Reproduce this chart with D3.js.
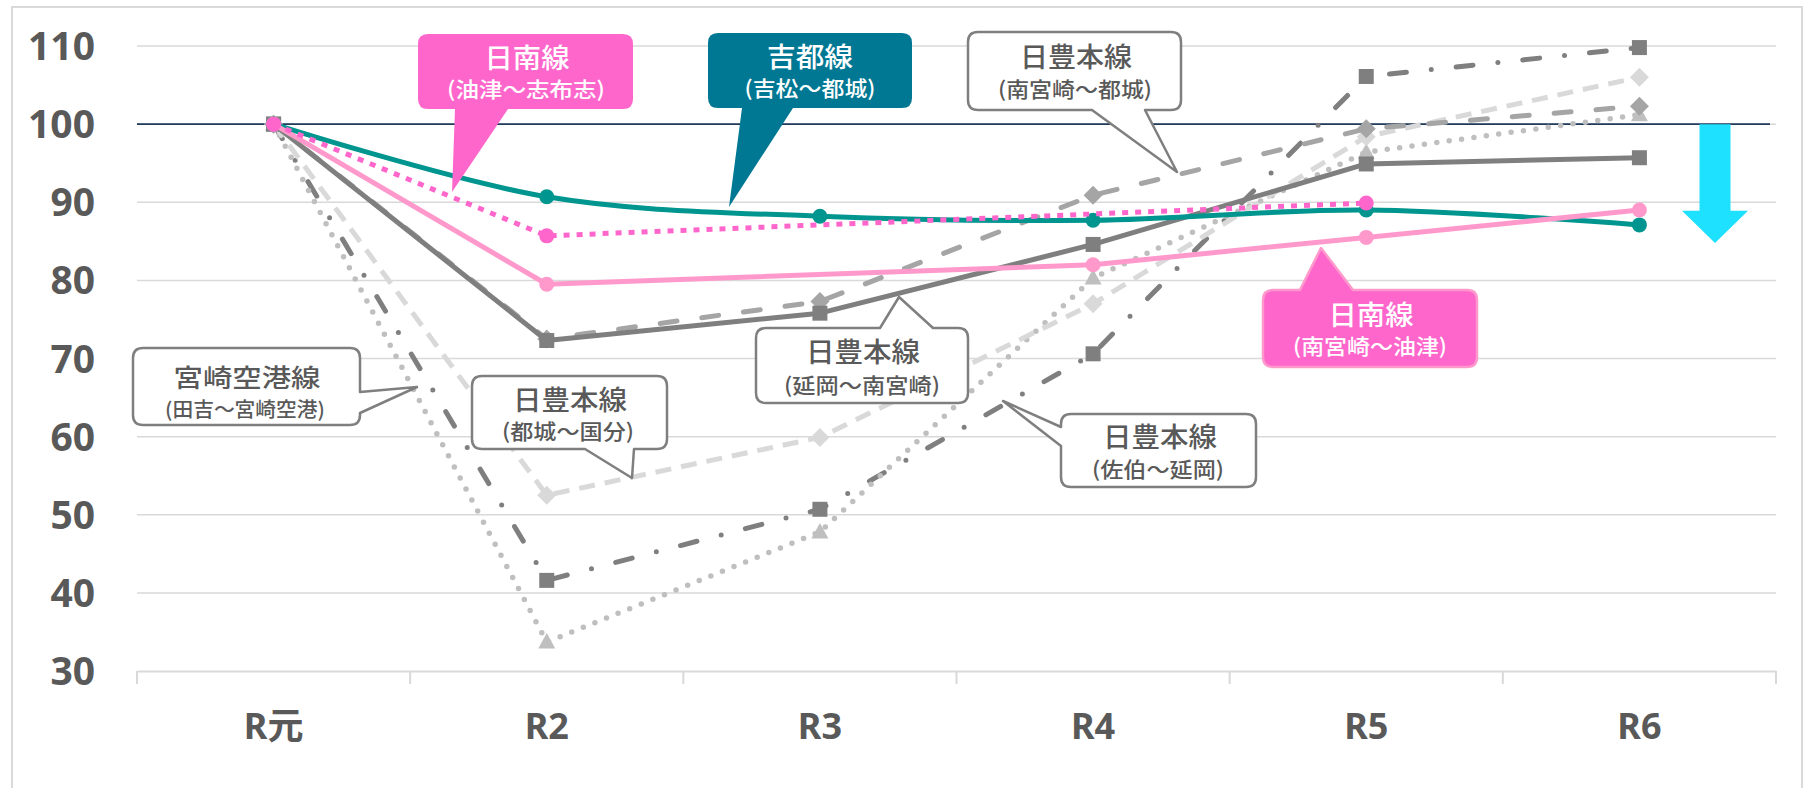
<!DOCTYPE html>
<html>
<head>
	<meta charset="utf-8">
	<script src="https://cdn.jsdelivr.net/npm/d3@7"></script>
	<style>
		body { margin: 0; background: #fff; }
		svg { display: block; }
	</style>
</head>
<body>
	<div id="chart"></div>

	<script>
		// 年度と指数 (R元 = 100)
		var categories = ["R元", "R2", "R3", "R4", "R5", "R6"];
		var yTicks = [30, 40, 50, 60, 70, 80, 90, 100, 110];

		var kitto = [100, 90.7, 88.2, 87.7, 89.0, 87.1];               // 吉都線（吉松〜都城）
		var nichinanShibushi = [100, 85.7, null, null, 89.9, null];    // 日南線（油津〜志布志）
		var nichinanAburatsu = [100, 79.5, null, 82.0, 85.5, 89.0];    // 日南線（南宮崎〜油津）
		var nipponNobeoka = [100, 72.3, 75.8, 84.6, 94.9, 95.7];       // 日豊本線（延岡〜南宮崎）
		var nipponMiyakonojo = [100, 72.5, 77.3, 90.9, 99.4, 102.3];   // 日豊本線（南宮崎〜都城）
		var nipponKokubu = [100, 52.5, 59.9, 77.0, 98.4, 106.0];       // 日豊本線（都城〜国分）
		var airport = [100, 33.7, 47.8, 80.3, 96.4, 101.2];            // 宮崎空港線（田吉〜宮崎空港）
		var nipponSaiki = [100, 41.6, 50.7, 70.6, 106.1, 109.8];       // 日豊本線（佐伯〜延岡）

		var width = 1807, height = 788;
		var plotLeft = 137, plotRight = 1776, plotTop = 46, plotBottom = 671;

		var svg = d3.select("#chart").append("svg")
			.attr("width", width)
			.attr("height", height);

		// outer frame
		svg.append("rect")
			.attr("x", 12).attr("y", 7)
			.attr("width", 1790).attr("height", 800)
			.attr("fill", "none")
			.attr("stroke", "#d9d9d9")
			.attr("stroke-width", 2);

		var x = d3.scalePoint()
			.domain(categories)
			.range([plotLeft, plotRight])
			.padding(0.5);

		var band = x.step();

		var y = d3.scaleLinear()
			.domain([30, 110])
			.range([plotBottom, plotTop]);

		// gridlines
		svg.append("g").selectAll("line")
			.data(yTicks.filter(function(d) { return d != 30; }))
			.enter().append("line")
			.attr("x1", plotLeft).attr("x2", plotRight)
			.attr("y1", function(d) { return y(d); })
			.attr("y2", function(d) { return y(d); })
			.attr("stroke", "#d9d9d9")
			.attr("stroke-width", 1.5);

		// x axis
		var xAxis = svg.append("g")
			.attr("transform", "translate(0," + plotBottom + ")")
			.call(d3.axisBottom(x).tickSize(0).tickFormat(""));
		xAxis.select(".domain").attr("stroke", "#d9d9d9").attr("stroke-width", 2);
		xAxis.selectAll(".tick").remove();

		svg.append("g").selectAll("line")
			.data(d3.range(categories.length + 1))
			.enter().append("line")
			.attr("x1", function(i) { return plotLeft + i * band; })
			.attr("x2", function(i) { return plotLeft + i * band; })
			.attr("y1", plotBottom).attr("y2", plotBottom + 13)
			.attr("stroke", "#d9d9d9")
			.attr("stroke-width", 2);

		svg.append("g").selectAll("text")
			.data(categories)
			.enter().append("text")
			.attr("x", function(d) { return x(d); })
			.attr("y", 739)
			.attr("text-anchor", "middle")
			.attr("font-family", "'Noto Sans', 'Noto Sans CJK JP', sans-serif")
			.attr("font-weight", "bold")
			.attr("font-size", 36)
			.attr("fill", "#595959")
			.text(function(d) { return d; });

		// y labels
		svg.append("g").selectAll("text")
			.data(yTicks)
			.enter().append("text")
			.attr("x", 95)
			.attr("y", function(d) { return y(d); })
			.attr("dy", "0.36em")
			.attr("text-anchor", "end")
			.attr("font-family", "'Noto Sans', sans-serif")
			.attr("font-weight", "bold")
			.attr("font-size", 39)
			.attr("fill", "#595959")
			.text(function(d) { return d; });

		// 100 base line
		svg.append("line")
			.attr("x1", plotLeft).attr("x2", plotRight - 6)
			.attr("y1", y(100)).attr("y2", y(100))
			.attr("stroke", "#203a5c")
			.attr("stroke-width", 1.6);

		var series = [
			{ values: nipponSaiki, color: "#7f7f7f", width: 5, dash: "17 25 0 25", cap: "round", marker: "square" },
			{ values: airport, color: "#bfbfbf", width: 5.5, dash: "0 12.5", cap: "round", marker: "triangle" },
			{ values: nipponKokubu, color: "#d9d9d9", width: 5, dash: "16 10", cap: "butt", marker: "diamond" },
			{ values: nipponMiyakonojo, color: "#a5a5a5", width: 5, dash: "17 25", cap: "round", marker: "diamond" },
			{ values: nipponNobeoka, color: "#7f7f7f", width: 5, dash: null, cap: "butt", marker: "square" },
			{ values: kitto, color: "#00968f", width: 5, dash: null, cap: "butt", marker: "circle", smooth: true },
			{ values: nichinanAburatsu, color: "#ff99cc", width: 5, dash: null, cap: "butt", marker: "circle" },
			{ values: nichinanShibushi, color: "#ff66cc", width: 5, dash: "6 7", cap: "butt", marker: "circle" }
		];

		function points(vals) {
			return vals.map(function(v, i) { return { c: categories[i], v: v }; })
				.filter(function(p) { return p.v != null; });
		}

		var markerPath = {
			square: "M-7.5,-7.5H7.5V7.5H-7.5Z",
			diamond: "M0,-9.5L9.5,0L0,9.5L-9.5,0Z",
			triangle: "M0,-9L8.5,6.5H-8.5Z"
		};

		series.forEach(function(s) {
			var line = d3.line()
				.x(function(p) { return x(p.c); })
				.y(function(p) { return y(p.v); })
				.curve(s.smooth ? d3.curveCatmullRom.alpha(0.5) : d3.curveLinear);

			var g = svg.append("g");
			g.append("path")
				.datum(points(s.values))
				.attr("d", line)
				.attr("fill", "none")
				.attr("stroke", s.color)
				.attr("stroke-width", s.width)
				.attr("stroke-linecap", s.cap)
				.attr("stroke-linejoin", "round")
				.attr("stroke-dasharray", s.dash);

			var m = g.selectAll(".mk")
				.data(points(s.values))
				.enter();
			if (s.marker == "circle") {
				m.append("circle")
					.attr("cx", function(p) { return x(p.c); })
					.attr("cy", function(p) { return y(p.v); })
					.attr("r", 7.5)
					.attr("fill", s.color);
			} else {
				m.append("path")
					.attr("transform", function(p) { return "translate(" + x(p.c) + "," + y(p.v) + ")"; })
					.attr("d", markerPath[s.marker])
					.attr("fill", s.color);
			}
		});

		// cyan arrow down
		var ax = 1715, shaft = 15.5, head = 33;
		svg.append("path")
			.attr("d", "M" + (ax - shaft) + "," + y(100) + "H" + (ax + shaft) + "V" + y(88.9) +
				"H" + (ax + head) + "L" + ax + "," + y(84.8) + "L" + (ax - head) + "," + y(88.9) +
				"H" + (ax - shaft) + "Z")
			.attr("fill", "#1ee0ff");

		// callouts
		function calloutPath(c) {
			var x0 = c.box[0], y0 = c.box[1], x1 = c.box[2], y1 = c.box[3], r = 10;
			var a = c.base[0], b = c.base[1], t = c.tip;
			var p = "M" + (x0 + r) + "," + y0;
			if (c.side == "top") p += "L" + a + "," + y0 + "L" + t[0] + "," + t[1] + "L" + b + "," + y0;
			p += "L" + (x1 - r) + "," + y0 + "Q" + x1 + "," + y0 + " " + x1 + "," + (y0 + r);
			if (c.side == "right") p += "L" + x1 + "," + a + "L" + t[0] + "," + t[1] + "L" + x1 + "," + b;
			p += "L" + x1 + "," + (y1 - r) + "Q" + x1 + "," + y1 + " " + (x1 - r) + "," + y1;
			if (c.side == "bottom") p += "L" + b + "," + y1 + "L" + t[0] + "," + t[1] + "L" + a + "," + y1;
			p += "L" + (x0 + r) + "," + y1 + "Q" + x0 + "," + y1 + " " + x0 + "," + (y1 - r);
			if (c.side == "left") p += "L" + x0 + "," + b + "L" + t[0] + "," + t[1] + "L" + x0 + "," + a;
			p += "L" + x0 + "," + (y0 + r) + "Q" + x0 + "," + y0 + " " + (x0 + r) + "," + y0 + "Z";
			return p;
		}

		var callouts = [
			{ title: "日南線", sub: "(油津～志布志)", fill: "#ff66cc", stroke: "none", text: "#fff",
				box: [418, 34, 633, 109], side: "bottom", base: [455, 508], tip: [452, 192],
				t: [527, 56, 85, 27], s: [526, 88, 158, 21] },
			{ title: "吉都線", sub: "(吉松～都城)", fill: "#007893", stroke: "none", text: "#fff",
				box: [708, 33, 912, 108], side: "bottom", base: [742, 793], tip: [729, 207],
				t: [810, 55, 86, 27], s: [810, 87, 131, 21] },
			{ title: "日豊本線", sub: "(南宮崎～都城)", fill: "#fff", stroke: "#7f7f7f", text: "#595959",
				box: [968, 32, 1181, 110], side: "bottom", base: [1092, 1145], tip: [1177, 172],
				t: [1076, 55, 112, 27], s: [1075, 88, 154, 21] },
			{ title: "日豊本線", sub: "(延岡～南宮崎)", fill: "#fff", stroke: "#7f7f7f", text: "#595959",
				box: [756, 328, 968, 403], side: "top", base: [880, 933], tip: [899, 297],
				t: [863, 350, 114, 27], s: [862, 384, 156, 21] },
			{ title: "宮崎空港線", sub: "(田吉～宮崎空港)", fill: "#fff", stroke: "#7f7f7f", text: "#595959",
				box: [133, 348, 360, 425], side: "right", base: [392, 413], tip: [417, 387],
				t: [247, 376, 147, 25], s: [245, 408, 160, 20] },
			{ title: "日豊本線", sub: "(都城～国分)", fill: "#fff", stroke: "#7f7f7f", text: "#595959",
				box: [472, 376, 667, 449], side: "bottom", base: [585, 634], tip: [632, 478],
				t: [570, 398, 114, 27], s: [568, 430, 132, 21] },
			{ title: "日豊本線", sub: "(佐伯～延岡)", fill: "#fff", stroke: "#7f7f7f", text: "#595959",
				box: [1061, 414, 1256, 487], side: "left", base: [427, 446], tip: [1003, 401],
				t: [1160, 435, 114, 27], s: [1158, 468, 132, 21] },
			{ title: "日南線", sub: "(南宮崎～油津)", fill: "#ff66cc", stroke: "#ff99cc", text: "#fff",
				box: [1263, 290, 1477, 367], side: "top", base: [1300, 1353], tip: [1321, 248],
				t: [1371, 313, 85, 27], s: [1370, 345, 154, 21] }
		];

		var cg = svg.append("g").selectAll("g")
			.data(callouts)
			.enter().append("g");

		cg.append("path")
			.attr("d", calloutPath)
			.attr("fill", function(c) { return c.fill; })
			.attr("stroke", function(c) { return c.stroke; })
			.attr("stroke-width", 2.5)
			.attr("stroke-linejoin", "round");

		cg.append("text")
			.attr("x", function(c) { return c.t[0]; })
			.attr("y", function(c) { return c.t[1]; })
			.attr("textLength", function(c) { return c.t[2]; })
			.attr("lengthAdjust", "spacingAndGlyphs")
			.attr("font-size", function(c) { return c.t[3]; })
			.attr("font-weight", 500)
			.attr("text-anchor", "middle")
			.attr("dominant-baseline", "central")
			.attr("font-family", "'Noto Sans CJK JP', sans-serif")
			.attr("fill", function(c) { return c.text; })
			.text(function(c) { return c.title; });

		cg.append("text")
			.attr("x", function(c) { return c.s[0]; })
			.attr("y", function(c) { return c.s[1]; })
			.attr("textLength", function(c) { return c.s[2]; })
			.attr("lengthAdjust", "spacingAndGlyphs")
			.attr("font-size", function(c) { return c.s[3]; })
			.attr("font-weight", 500)
			.attr("text-anchor", "middle")
			.attr("dominant-baseline", "central")
			.attr("font-family", "'Noto Sans CJK JP', sans-serif")
			.attr("fill", function(c) { return c.text; })
			.text(function(c) { return c.sub; });
	</script>
</body>
</html>
